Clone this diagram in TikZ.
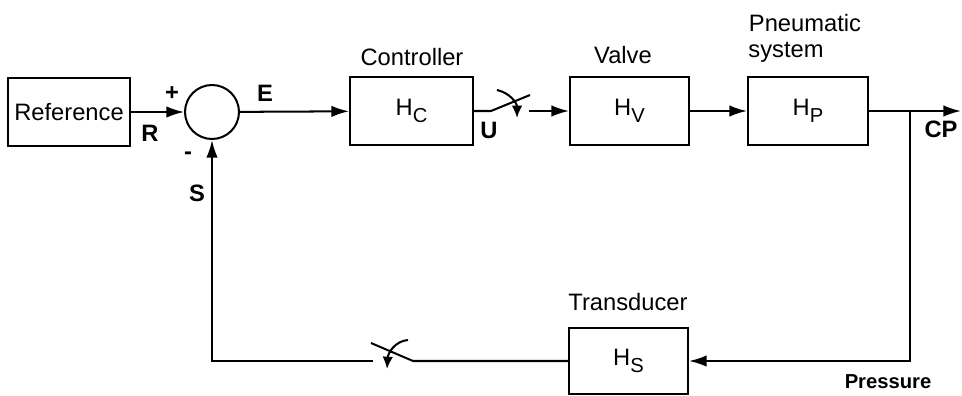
\documentclass[tikz,border=0pt]{standalone}
\usepackage{fontspec}
\setmainfont{Liberation Sans}
\usetikzlibrary{arrows.meta,positioning}
\newcommand{\lowidx}[1]{\raisebox{-0.55ex}{\fontsize{11.5}{13}\selectfont #1}}

\begin{document}
\begin{tikzpicture}[x=0.02cm, y=-0.02cm, line width=1.15pt,
		block/.style={draw, minimum width=2.38cm, minimum height=1.36cm, font=\fontsize{13.5}{16}\selectfont},
		lbl/.style={inner sep=0pt, font=\fontsize{13.5}{16}\selectfont},
		sig/.style={inner sep=0pt, font=\bfseries\fontsize{13.5}{16}\selectfont},
		>={Latex[length=10pt,width=6.5pt]}]
		\useasboundingbox (0,0) rectangle (962,395);
		
		\node[block, minimum width=2.36cm] (ref) at (69,112) {Reference};
		\node[draw, circle, minimum size=1.08cm, inner sep=0pt] (sum) at (212,112) {};
		\node[block, minimum width=2.46cm] (ctrl) at (411.5,111) {H\lowidx{C}};
		\node[block] (valve) at (629.5,111) {H\lowidx{V}};
		\node[block, minimum width=2.4cm] (pneu) at (808,111) {H\lowidx{P}};
		\node[block, minimum height=1.32cm] (trans) at (628.5,361) {H\lowidx{S}};
		
		\node[lbl] (ctrltxt) at (412,57) {Controller};
		\node[lbl] (valvetxt) at (623,55) {Valve};
		\node[lbl] (pneutxt) at (805,23) {Pneumatic};
		\node[lbl] (systxt) at (786,52) {system};
		\node[lbl] (transtxt) at (628,302) {Transducer};
		
		\node[sig] (plus) at (172,94) {+};
		\node[sig] (minus) at (188,156) {-};
		\node[sig] (rsig) at (150,133) {R};
		\node[sig] (esig) at (265,93) {E};
		\node[sig] (usig) at (489,130) {U};
		\node[sig] (ssig) at (197,193) {S};
		\node[sig] (cpsig) at (941,129) {CP};
		\node[sig, font=\bfseries\fontsize{11.5}{13}\selectfont] (press) at (888,382) {Pressure};
		
		\coordinate (u1) at (491,111); % switch pivot
		\coordinate (u2) at (530,95);
		\coordinate (u3) at (529,111);
		\coordinate (ua) at (497,90);
		\coordinate (ub) at (517,118);
		\coordinate (tap) at (910,111);
		\coordinate (out) at (961,111);
		\coordinate (corner) at (910,361);
		\coordinate (s1) at (413,361); % switch pivot
		\coordinate (s2) at (371,343);
		\coordinate (s3) at (373,361);
		\coordinate (s4) at (212,361);
		\coordinate (sa) at (408,340);
		\coordinate (sb) at (387,369);
		
		\draw[->] (ref) -- (sum);
		\draw[->] (sum) -- (ctrl);
		\draw (ctrl) -- (u1) -- (u2);
		\draw[-{Latex[length=7pt,width=6pt]}] (ua) .. controls (510,93) and (517,103) .. (ub);
		\draw[->] (u3) -- (valve);
		\draw[->] (valve) -- (pneu);
		\draw[->] (pneu) -- (out);
		\draw[->] (tap) -- (corner) -- (trans);
		\draw (trans) -- (s1) -- (s2);
		\draw[-{Latex[length=7pt,width=6pt]}] (sa) .. controls (395,341) and (388,353) .. (sb);
		\draw[->] (s3) -- (s4) -- (sum);
	\end{tikzpicture}
\end{document}
